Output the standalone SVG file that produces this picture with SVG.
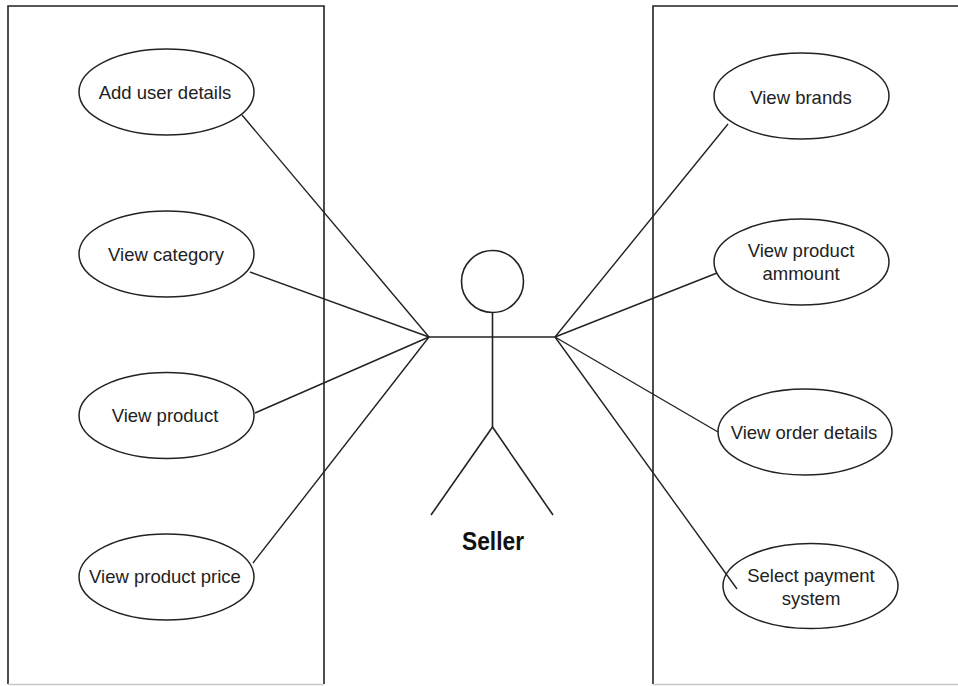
<svg xmlns="http://www.w3.org/2000/svg" width="958" height="686" viewBox="0 0 958 686">
<style>
.box{fill:none;stroke:#222;stroke-width:1.6}
.btm{stroke:#c8c8c8;stroke-width:1.5}
.uc{fill:#fff;stroke:#222;stroke-width:1.5}
.t{font-family:"Liberation Sans",Arial,sans-serif;font-size:18.5px;fill:#222;text-anchor:middle}
.ln{stroke:#222;stroke-width:1.4;fill:none}
.act{stroke:#222;stroke-width:1.6;fill:none}
</style>
<rect width="958" height="686" fill="#fff"/>
<g id="boundary-left">
<path class="box" d="M8,684 V6 H324 V684"/>
<line class="btm" x1="8" y1="684.5" x2="324" y2="684.5"/>
</g>
<g id="boundary-right">
<path class="box" d="M653,684 V6 H958"/>
<line class="btm" x1="653" y1="684.5" x2="958" y2="684.5"/>
</g>
<g id="uc-add-user-details">
<ellipse class="uc" cx="166.5" cy="92" rx="87.5" ry="43"/>
<text class="t" x="165" y="99">Add user details</text>
</g>
<g id="uc-view-category">
<ellipse class="uc" cx="166.5" cy="254" rx="87.5" ry="43"/>
<text class="t" x="166" y="261">View category</text>
</g>
<g id="uc-view-product">
<ellipse class="uc" cx="166.5" cy="415.5" rx="87.5" ry="43"/>
<text class="t" x="165" y="422">View product</text>
</g>
<g id="uc-view-product-price">
<ellipse class="uc" cx="166.5" cy="577" rx="87.5" ry="43"/>
<text class="t" x="165" y="583">View product price</text>
</g>
<g id="uc-view-brands">
<ellipse class="uc" cx="801.5" cy="96" rx="87.5" ry="43"/>
<text class="t" x="801" y="104">View brands</text>
</g>
<g id="uc-view-product-ammount">
<ellipse class="uc" cx="801.5" cy="262" rx="87.5" ry="43"/>
<text class="t" x="801" y="257">View product</text>
<text class="t" x="801" y="280">ammount</text>
</g>
<g id="uc-view-order-details">
<ellipse class="uc" cx="805" cy="432" rx="87" ry="43"/>
<text class="t" x="804" y="439">View order details</text>
</g>
<g id="uc-select-payment-system">
<ellipse class="uc" cx="810.5" cy="586" rx="87.5" ry="42.5"/>
<text class="t" x="811" y="582">Select payment</text>
<text class="t" x="811" y="605">system</text>
</g>
<g id="connectors">
<line class="ln" x1="242" y1="115" x2="429" y2="337"/>
<line class="ln" x1="250" y1="272" x2="429" y2="337"/>
<line class="ln" x1="255" y1="413" x2="429" y2="337"/>
<line class="ln" x1="253" y1="563" x2="429" y2="337"/>
<line class="ln" x1="728" y1="124" x2="555" y2="337"/>
<line class="ln" x1="717" y1="273" x2="555" y2="337"/>
<line class="ln" x1="718" y1="432" x2="555" y2="337"/>
<line class="ln" x1="737" y1="589" x2="555" y2="337"/>
</g>
<g id="actor-seller">
<circle class="act" cx="492.5" cy="281.5" r="31"/>
<line class="act" x1="492.5" y1="312.5" x2="492.5" y2="427"/>
<line class="act" x1="429" y1="337" x2="555" y2="337"/>
<line class="act" x1="492.5" y1="427" x2="431" y2="515"/>
<line class="act" x1="492.5" y1="427" x2="553" y2="515"/>
<text x="493" y="550" font-family="'Liberation Sans',Arial,sans-serif" font-size="26" font-weight="bold" fill="#111" text-anchor="middle" textLength="62" lengthAdjust="spacingAndGlyphs">Seller</text>
</g>
</svg>
